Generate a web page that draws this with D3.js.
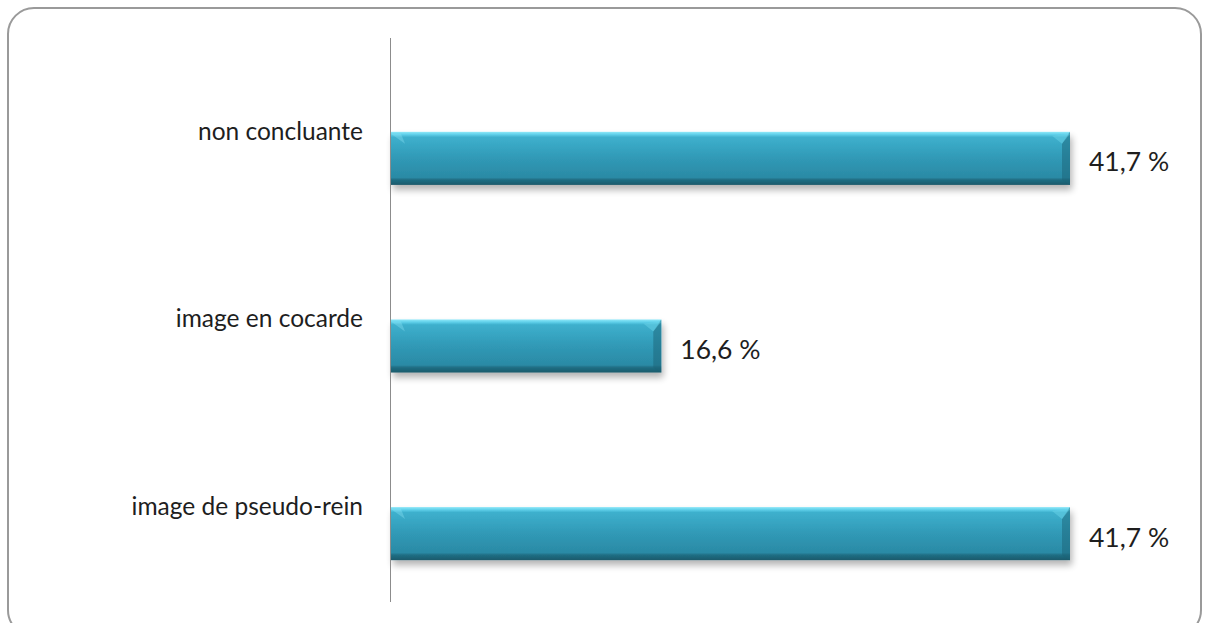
<!DOCTYPE html>
<html>
<head>
<meta charset="utf-8">
<script src="https://cdn.jsdelivr.net/npm/d3@7"></script>
<style>
  html, body { margin: 0; padding: 0; background: #fff; }
  svg { display: block; }
  text { font-family: Lato, "Open Sans", "Noto Sans", sans-serif; fill: #1e1e1e; }
</style>
</head>
<body>
<svg id="chart" width="1207" height="623"></svg>
<script>
// Categories (top to bottom) and their shares in percent
const categories = ["non concluante", "image en cocarde", "image de pseudo-rein"];
const values = [41.7, 16.6, 41.7];
const valueLabels = ["41,7 %", "16,6 %", "41,7 %"];

const svg = d3.select("#chart");

// Outer frame with rounded corners
svg.append("rect")
  .attr("x", 8).attr("y", 8)
  .attr("width", 1193).attr("height", 628)
  .attr("rx", 26).attr("ry", 26)
  .attr("fill", "#fff")
  .attr("stroke", "#9a9a9a")
  .attr("stroke-width", 2);

const plot = { left: 391, top: 38, bottom: 602 };

const x = d3.scaleLinear().domain([0, 41.7]).range([plot.left, 1070]);
// Band layout: the 3-D depth pushes the bars down inside the plot area
const y = d3.scaleBand().domain(categories)
  .range([plot.top, 654])
  .paddingInner(0.717)
  .paddingOuter(0.5);

const defs = svg.append("defs");
const grad = defs.append("linearGradient").attr("id", "barGrad")
  .attr("x1", 0).attr("y1", 0).attr("x2", 0).attr("y2", 1);
[[0, "#8fe8f8"], [0.05, "#5fd0ea"], [0.1, "#3eb0cd"], [0.5, "#3099b6"], [0.86, "#2b8aa5"], [0.9, "#206f85"], [1, "#1b5a6b"]]
  .forEach(([o, c]) => grad.append("stop").attr("offset", o).attr("stop-color", c));

const shadow = defs.append("filter").attr("id", "barShadow")
  .attr("x", "-5%").attr("y", "-20%").attr("width", "110%").attr("height", "170%");
shadow.append("feGaussianBlur").attr("in", "SourceAlpha").attr("stdDeviation", 3.5);
shadow.append("feOffset").attr("dx", 2).attr("dy", 5).attr("result", "b");
shadow.append("feComponentTransfer").append("feFuncA").attr("type", "linear").attr("slope", 0.3);
const merge = shadow.append("feMerge");
merge.append("feMergeNode");
merge.append("feMergeNode").attr("in", "SourceGraphic");

const data = categories.map((c, i) => ({ c, v: values[i], label: valueLabels[i] }));

const bars = svg.append("g").selectAll("g.bar").data(data).join("g").attr("class", "bar");

bars.append("rect")
  .attr("x", x(0))
  .attr("y", d => y(d.c))
  .attr("width", d => x(d.v) - x(0))
  .attr("height", y.bandwidth())
  .attr("fill", "url(#barGrad)")
  .attr("filter", "url(#barShadow)");

// Bevel facets: darker right edge, lighter top-left corner
const bev = 8;
bars.append("path")
  .attr("d", d => {
    const x1 = x(d.v), y0 = y(d.c), y1 = y0 + y.bandwidth();
    return `M${x1},${y0} L${x1},${y1} L${x1 - bev},${y1 - 5} L${x1 - bev},${y0 + bev + 4} Z`;
  })
  .attr("fill", "#1c6478").attr("opacity", 0.5);
bars.append("path")
  .attr("d", d => {
    const x1 = x(d.v), y0 = y(d.c);
    return `M${x1},${y0 + 2} L${x1 - bev},${y0 + bev + 4} L${x1 - bev - 10},${y0 + 4} Z`;
  })
  .attr("fill", "#6fd6ec").attr("opacity", 0.45);
bars.append("path")
  .attr("d", d => {
    const x0 = x(0), y0 = y(d.c);
    return `M${x0},${y0 + 2} L${x0 + 10},${y0 + 2} L${x0 + 14},${y0 + 12} Z`;
  })
  .attr("fill", "#8fe6f5").attr("opacity", 0.35);

// Value labels
bars.append("text")
  .attr("x", d => x(d.v) + 19)
  .attr("y", d => y(d.c) + y.bandwidth() / 2 + 13)
  .attr("font-size", 26.5)
  .text(d => d.label);

// Vertical category axis
svg.append("line")
  .attr("x1", plot.left - 0.5).attr("x2", plot.left - 0.5)
  .attr("y1", plot.top).attr("y2", plot.bottom)
  .attr("stroke", "#8c8c8c").attr("stroke-width", 1);

// Category labels
svg.append("g").selectAll("text").data(data).join("text")
  .attr("x", 363)
  .attr("y", d => y(d.c) + 8)
  .attr("text-anchor", "end")
  .attr("font-size", 24.5)
  .text(d => d.c);
</script>
</body>
</html>
